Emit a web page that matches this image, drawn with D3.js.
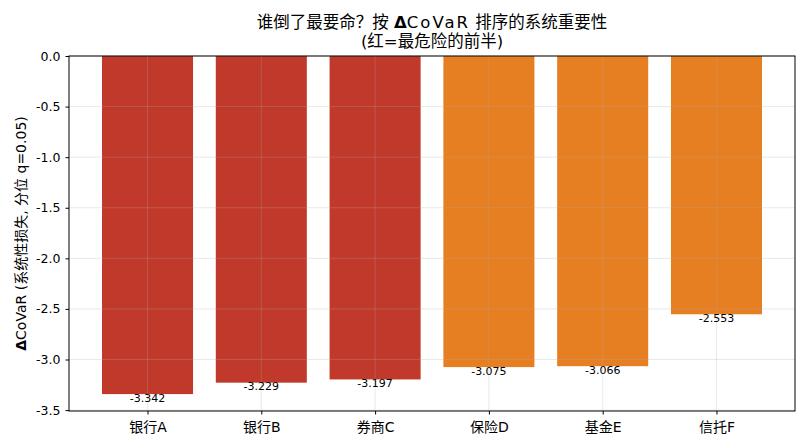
<!DOCTYPE html>
<html>
<head>
<meta charset="utf-8">
<script src="https://cdn.jsdelivr.net/npm/d3@7"></script>
<style>
  body { margin: 0; background: #fff; }
  svg text { font-family: "DejaVu Sans", "Noto Sans CJK SC", sans-serif; fill: #000; }
</style>
</head>
<body>
<svg id="chart" width="804" height="448"></svg>
<script>
// data
var institutions = ["银行A", "银行B", "券商C", "保险D", "基金E", "信托F"];
var deltaCovar = [-3.342, -3.229, -3.197, -3.075, -3.066, -2.553];
var topHalf = [true, true, true, false, false, false];
var yTicks = [0, -0.5, -1.0, -1.5, -2.0, -2.5, -3.0, -3.5];

var svg = d3.select("#chart");
// plot box (window.top is reserved, so prefixed names)
var plotL = 69, plotR = 795, plotT = 56, plotB = 411;

// matplotlib-like band: bar width 0.8, margin 0.05
var x = d3.scaleLinear().domain([-0.69, 5.69]).range([plotL, plotR]);
var y = d3.scaleLinear().domain([-3.509, 0]).range([plotB, plotT]);
var barW = x(0.8) - x(0);

var red = "#c0392b", orange = "#e67e22";

// bars
svg.append("g").selectAll("rect")
    .data(deltaCovar)
    .enter()
    .append("rect")
    .attr("x", function(d, i) { return x(i) - barW / 2; })
    .attr("y", y(0))
    .attr("width", barW)
    .attr("height", function(d) { return y(d) - y(0); })
    .attr("fill", function(d, i) { return topHalf[i] ? red : orange; });

// grid on top of bars
var grid = svg.append("g").attr("stroke", "#b0b0b0").attr("stroke-opacity", 0.35).attr("stroke-width", 0.8);
grid.selectAll("line.gy").data(yTicks).enter().append("line")
    .attr("x1", plotL).attr("x2", plotR)
    .attr("y1", function(d) { return y(d); }).attr("y2", function(d) { return y(d); });
grid.selectAll("line.gx").data(institutions).enter().append("line")
    .attr("y1", plotT).attr("y2", plotB)
    .attr("x1", function(d, i) { return x(i); }).attr("x2", function(d, i) { return x(i); });

// value labels
svg.append("g").selectAll("text")
    .data(deltaCovar)
    .enter()
    .append("text")
    .attr("x", function(d, i) { return x(i); })
    .attr("y", function(d) { return y(d) + 7.5; })
    .attr("text-anchor", "middle")
    .style("font-size", "11px")
    .text(function(d) { return d3.format(".3f")(d).replace("−", "-"); });

// axes
var yAxis = d3.axisLeft(y).tickValues(yTicks).tickSize(3.5).tickPadding(5)
    .tickFormat(function(d) { return d3.format(".1f")(d).replace("−", "-"); });
var gy = svg.append("g").attr("transform", "translate(" + plotL + ",0)").call(yAxis);
gy.select(".domain").remove();
gy.selectAll("text").style("font-size", "12.5px");

var xAxis = d3.axisBottom(x).tickValues(d3.range(institutions.length)).tickSize(3.5).tickPadding(8)
    .tickFormat(function(d) { return institutions[d]; });
var gx = svg.append("g").attr("transform", "translate(0," + plotB + ")").call(xAxis);
gx.select(".domain").remove();
gx.selectAll("text").style("font-size", "14px");

// frame
svg.append("rect")
    .attr("x", plotL).attr("y", plotT)
    .attr("width", plotR - plotL).attr("height", plotB - plotT)
    .attr("fill", "none").attr("stroke", "#000").attr("stroke-width", 1);

// title
var cx = (plotL + plotR) / 2;
var line1 = svg.append("text")
    .attr("x", cx).attr("y", 28)
    .attr("text-anchor", "middle")
    .style("font-size", "16.5px");
line1.append("tspan").text("谁倒了最要命？按 ");
line1.append("tspan").style("font-weight", "bold").text("Δ");
line1.append("tspan").attr("letter-spacing", "2").text("CoVaR");
line1.append("tspan").text(" 排序的系统重要性");
svg.append("text")
    .attr("x", cx).attr("y", 47)
    .attr("text-anchor", "middle")
    .style("font-size", "16.5px")
    .text("(红=最危险的前半)");

// y label
var yl = svg.append("text")
    .attr("transform", "translate(26," + ((plotT + plotB) / 2) + ") rotate(-90)")
    .attr("text-anchor", "middle")
    .style("font-size", "14px");
yl.append("tspan").style("font-weight", "bold").text("Δ");
yl.append("tspan").text("CoVaR (系统性损失, 分位 q=0.05)");
</script>
</body>
</html>
